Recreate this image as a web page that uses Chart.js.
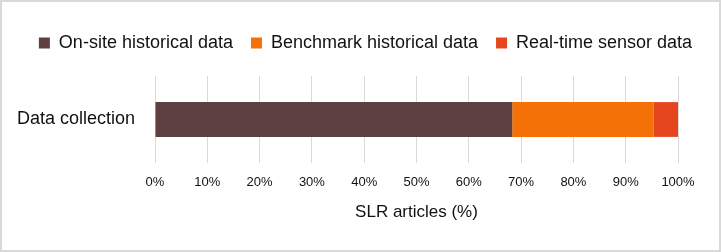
<!DOCTYPE html>
<html>
<head>
<meta charset="utf-8">
<script src="https://cdn.jsdelivr.net/npm/chart.js@4"></script>
<style>
  html, body { margin: 0; padding: 0; background: #fff; }
  .frame {
    width: 721px; height: 252px; box-sizing: border-box;
    border: 2px solid #d9d9d9; background: #fff;
  }
  .frame canvas { display: block; }
</style>
</head>
<body>
<div class="frame"><canvas id="chart" width="717" height="248"></canvas></div>
<script>
const categories = ['Data collection'];
const onSite = [68.3];
const benchmark = [27.0];
const realTime = [4.7];
const xTicks = [0, 10, 20, 30, 40, 50, 60, 70, 80, 90, 100];

const font = 'Liberation Sans';

// leave room between the legend and the plot
const legendGap = {
    id: 'legendGap',
    beforeInit(chart) {
        const fit = chart.legend.fit;
        chart.legend.fit = function () {
            fit.bind(chart.legend)();
            this.height += 14;
        };
    }
};

new Chart(document.getElementById('chart'), {
    type: 'bar',
    data: {
        labels: categories,
        datasets: [
            { label: 'On-site historical data', data: onSite, backgroundColor: '#5e4040' },
            { label: 'Benchmark historical data', data: benchmark, backgroundColor: '#f37106' },
            { label: 'Real-time sensor data', data: realTime, backgroundColor: '#e6461e' }
        ]
    },
    options: {
        indexAxis: 'y',
        responsive: false,
        animation: false,
        layout: { padding: { left: 10, right: 0, top: 14, bottom: 27 } },
        datasets: { bar: { barPercentage: 0.4, categoryPercentage: 1 } },
        scales: {
            x: {
                stacked: true,
                min: 0,
                max: 100,
                afterBuildTicks: axis => { axis.ticks = xTicks.map(v => ({ value: v })); },
                grid: { color: '#d9d9d9', lineWidth: 1, drawTicks: false },
                border: { display: false },
                ticks: {
                    color: '#111',
                    padding: 12,
                    font: { family: font, size: 13 },
                    callback: v => v + '%'
                },
                title: {
                    display: true,
                    text: 'SLR articles (%)',
                    color: '#111',
                    font: { family: font, size: 17 },
                    padding: { top: 0, bottom: 0 }
                }
            },
            y: {
                stacked: true,
                grid: { display: false, drawTicks: false },
                border: { display: false },
                afterFit: axis => { axis.width = 143; },
                ticks: { color: '#111', padding: 20, font: { family: font, size: 18 } }
            },
            // empty right-hand axis, only to keep space right of the plot
            yRight: {
                type: 'category',
                position: 'right',
                grid: { display: false, drawTicks: false },
                border: { display: false },
                ticks: { display: false },
                afterFit: axis => { axis.width = 41; }
            }
        },
        plugins: {
            legend: {
                position: 'top',
                labels: {
                    color: '#111',
                    font: { family: font, size: 18 },
                    boxWidth: 11,
                    boxHeight: 11,
                    padding: 18
                }
            },
            tooltip: { enabled: false }
        }
    },
    plugins: [legendGap]
});
</script>
</body>
</html>
